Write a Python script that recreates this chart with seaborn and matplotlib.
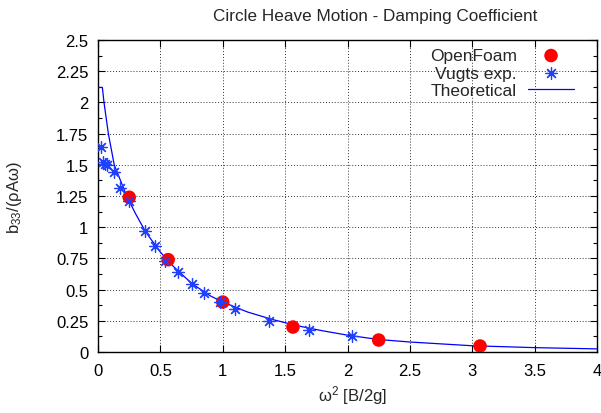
import matplotlib
matplotlib.use("Agg")
import matplotlib.pyplot as plt
import seaborn as sns
import pandas as pd
from matplotlib.ticker import MultipleLocator

# ---- data ----
openfoam_x = [0.25, 0.5625, 1.0, 1.5625, 2.25, 3.0625]
openfoam_y = [1.24, 0.74, 0.40, 0.20, 0.096, 0.048]

vugts_x = [0.025, 0.04, 0.055, 0.075, 0.13, 0.18, 0.245, 0.38, 0.46, 0.54,
           0.64, 0.75, 0.85, 0.975, 1.10, 1.37, 1.69, 2.04]
vugts_y = [1.64, 1.52, 1.51, 1.50, 1.445, 1.315, 1.21, 0.967, 0.849, 0.732,
           0.638, 0.545, 0.47, 0.398, 0.345, 0.251, 0.176, 0.131]

theory_x = [0.0, 0.035, 0.048, 0.083, 0.13, 0.23, 0.30, 0.38, 0.50, 0.60,
            0.75, 0.90, 1.0, 1.2, 1.4, 1.6, 1.8, 2.0, 2.25, 2.5, 3.0, 3.5, 4.0]
theory_y = [2.12, 2.12, 2.0, 1.75, 1.5, 1.25, 1.11, 0.965, 0.80, 0.69,
            0.55, 0.45, 0.40, 0.32, 0.26, 0.21, 0.17, 0.135, 0.10, 0.08, 0.05, 0.035, 0.025]

x_ticks = [0, 0.5, 1, 1.5, 2, 2.5, 3, 3.5, 4]
x_labels = ["0", "0.5", "1", "1.5", "2", "2.5", "3", "3.5", "4"]
y_ticks = [0, 0.25, 0.5, 0.75, 1, 1.25, 1.5, 1.75, 2, 2.25, 2.5]
y_labels = ["0", "0.25", "0.5", "0.75", "1", "1.25", "1.5", "1.75", "2", "2.25", "2.5"]

title = "Circle Heave Motion - Damping Coefficient"

# ---- style ----
sns.set_style("ticks")
plt.rcParams['font.family'] = ['Liberation Sans', 'DejaVu Sans']
plt.rcParams['mathtext.fontset'] = 'custom'
plt.rcParams['mathtext.rm'] = 'Liberation Sans'
plt.rcParams['mathtext.it'] = 'Liberation Sans'
plt.rcParams['mathtext.default'] = 'regular'

fig = plt.figure(figsize=(6.01, 4.14), dpi=100)
ax = fig.add_axes([98/601, 1-353/414, (597-98)/601, (353-41)/414])

df_t = pd.DataFrame({"x": theory_x, "y": theory_y})
df_o = pd.DataFrame({"x": openfoam_x, "y": openfoam_y})
df_v = pd.DataFrame({"x": vugts_x, "y": vugts_y})

sns.lineplot(data=df_t, x="x", y="y", ax=ax, color="#0000ff", lw=0.9,
             label="Theoretical", zorder=3, sort=False)
sns.scatterplot(data=df_o, x="x", y="y", ax=ax, color="#ff0000", s=95,
                edgecolor="none", label="OpenFoam", zorder=4)
ax.scatter(df_v["x"], df_v["y"], marker=(8, 2, 0), s=70, color="#2040ff",
           linewidths=0.9, label="Vugts exp.", zorder=5)

ax.set_xlim(0, 4)
ax.set_ylim(0, 2.5)
ax.set_xticks(x_ticks, x_labels)
ax.set_yticks(y_ticks, y_labels)
ax.yaxis.set_minor_locator(MultipleLocator(0.125))
ax.tick_params(which="both", direction="in", top=True, right=True,
               labelsize=12, colors="black")
ax.tick_params(axis="x", pad=8)
ax.tick_params(axis="y", pad=7)
ax.tick_params(which="major", length=5, width=0.8)
ax.tick_params(which="minor", length=3, width=0.8)
for s in ax.spines.values():
    s.set_linewidth(1.0)
    s.set_color("black")

ax.grid(True, which="major", color="#333333", linestyle=(0, (1, 2)), lw=0.7)

ax.set_xlabel(r"ω$^{2}$ [B/2g]", fontsize=12)
ax.set_ylabel(r"b$_{33}$/(ρAω)", fontsize=12)
ax.xaxis.set_label_coords((352-98)/499, (353-396)/312)
ax.xaxis.label.set_va("center")
ax.yaxis.set_label_coords((15-98)/499, 0.5)
ax.yaxis.label.set_va("center")
fig.text(375/601, 1-17/414, title, fontsize=12.3, ha="center", va="center")

handles, labels = ax.get_legend_handles_labels()
order = [labels.index(l) for l in ["OpenFoam", "Vugts exp.", "Theoretical"]]
leg = ax.legend([handles[i] for i in order], [labels[i] for i in order],
                loc="upper right", frameon=False, markerfirst=False,
                fontsize=12.5, handlelength=2.65, handletextpad=0.63,
                labelspacing=0.14, borderaxespad=0.0,
                bbox_to_anchor=((574-98)/499 + 0.014, 1 - 1/312))

fig.savefig("out.png", dpi=100)
